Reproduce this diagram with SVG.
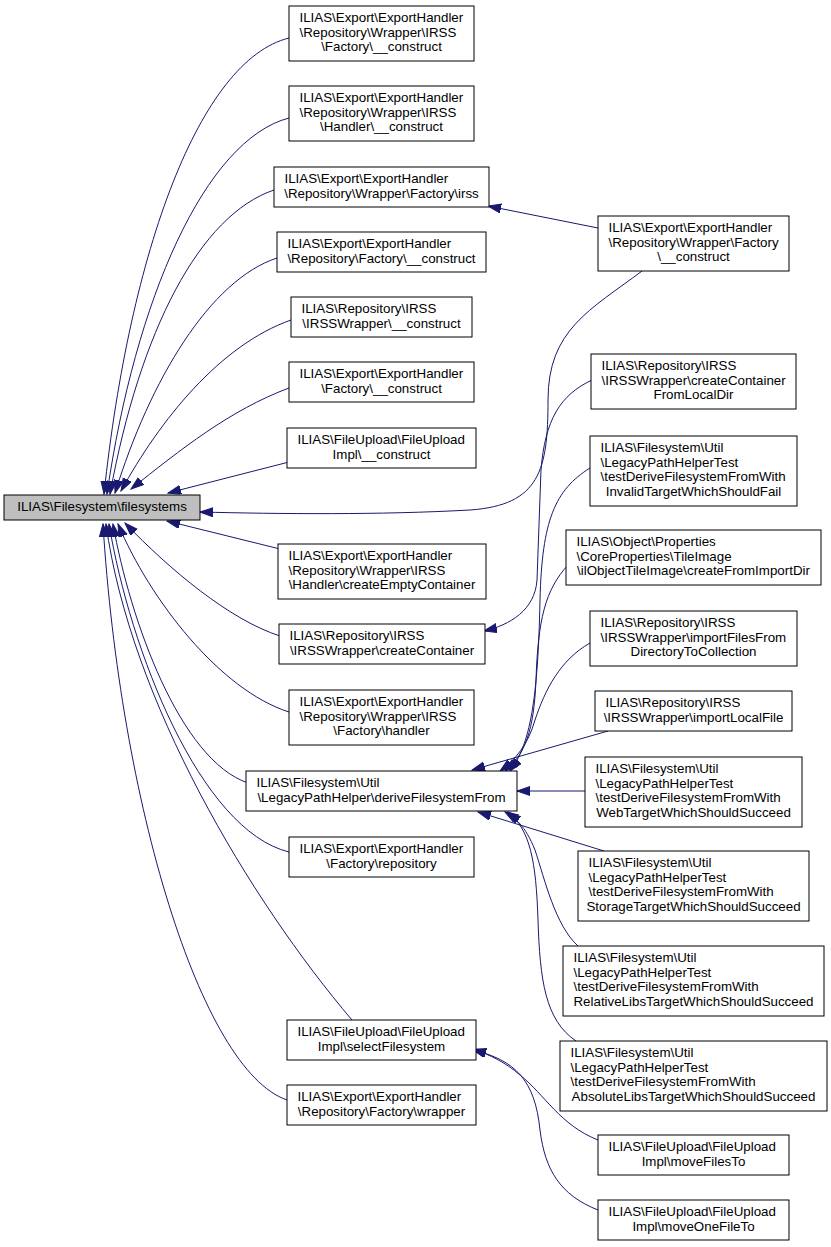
<svg xmlns="http://www.w3.org/2000/svg" width="831" height="1247" viewBox="0 0 831 1247">
<style>
.node rect{fill:#ffffff;stroke:#000000;stroke-width:1}
.main rect{fill:#bfbfbf}
text{font-family:"Liberation Sans",Arial,Helvetica,sans-serif;font-size:13.33px;fill:#000000}
.c{text-anchor:middle}
.edges path{fill:none;stroke:#191970;stroke-width:1}
</style>
<defs>
<marker id="ah" markerUnits="userSpaceOnUse" markerWidth="14" markerHeight="10" refX="13" refY="4.5" orient="auto">
<path d="M0,0 L13,4.5 L0,9 Z" fill="#191970" stroke="#191970" stroke-width="1"/>
</marker>
</defs>
<rect x="0" y="0" width="831" height="1247" fill="#ffffff"/>
<g class="edges" marker-end="url(#ah)">
<path d="M289,38 C200,60 130,250 104,494" marker-end="url(#ah)"/>
<path d="M289,118 C205,140 135,300 107,494" marker-end="url(#ah)"/>
<path d="M274,190 C200,215 140,330 110,494" marker-end="url(#ah)"/>
<path d="M277,258 C210,280 150,380 115,493" marker-end="url(#ah)"/>
<path d="M291,320 C220,345 160,420 121,491" marker-end="url(#ah)"/>
<path d="M289,388 C230,410 180,450 131,489" marker-end="url(#ah)"/>
<path d="M289,462 L168,493" marker-end="url(#ah)"/>
<path d="M280,549 L167,521" marker-end="url(#ah)"/>
<path d="M280,636 C230,620 170,570 125,523" marker-end="url(#ah)"/>
<path d="M289,712 C220,690 150,600 118,524" marker-end="url(#ah)"/>
<path d="M248,783 C180,760 130,620 113,524" marker-end="url(#ah)"/>
<path d="M289,852 C200,830 130,650 109,524" marker-end="url(#ah)"/>
<path d="M352,1020 C250,900 130,700 106,524" marker-end="url(#ah)"/>
<path d="M287,1100 C200,1070 120,800 103,524" marker-end="url(#ah)"/>
<path d="M642,271 C590,310 548,330 548,400 C548,470 540,505 470,510 C380,515 280,514 200,512" marker-end="url(#ah)"/>
<path d="M598,228 L488,206" marker-end="url(#ah)"/>
<path d="M592,380 C560,395 545,420 541,470 L537,580 C535,610 510,625 484,631" marker-end="url(#ah)"/>
<path d="M590,468 C555,490 542,520 540,600 C538,700 530,745 510,771" marker-end="url(#ah)"/>
<path d="M568,565 C545,590 538,620 536,680 C534,730 525,755 505,771" marker-end="url(#ah)"/>
<path d="M590,643 C560,660 545,690 535,720 C528,745 515,760 500,771" marker-end="url(#ah)"/>
<path d="M608,731 L472,770" marker-end="url(#ah)"/>
<path d="M585,791 L517,791" marker-end="url(#ah)"/>
<path d="M604,851 L478,812" marker-end="url(#ah)"/>
<path d="M578,946 C555,925 545,880 535,850 C525,825 515,818 505,812" marker-end="url(#ah)"/>
<path d="M576,1041 C545,1020 540,980 538,920 C536,860 530,830 508,812" marker-end="url(#ah)"/>
<path d="M598,1140 C560,1125 545,1095 520,1075 C505,1062 490,1055 473,1049" marker-end="url(#ah)"/>
<path d="M598,1210 C560,1195 545,1170 540,1130 C535,1080 515,1060 473,1050" marker-end="url(#ah)"/>
</g>
<g id="main" class="node main"><rect x="4" y="495" width="196" height="25"/><text class="c" x="102" y="511">ILIAS\Filesystem\filesystems</text></g>
<g id="n1" class="node"><rect x="289" y="6" width="185" height="55"/><text x="299.5" y="22">ILIAS\Export\ExportHandler</text><text x="299.5" y="36.67">\Repository\Wrapper\IRSS</text><text class="c" x="381.5" y="51.33">\Factory\__construct</text></g>
<g id="n2" class="node"><rect x="289" y="86" width="185" height="55"/><text x="299.5" y="102">ILIAS\Export\ExportHandler</text><text x="299.5" y="116.67">\Repository\Wrapper\IRSS</text><text class="c" x="381.5" y="131.33">\Handler\__construct</text></g>
<g id="n3" class="node"><rect x="274" y="167" width="215" height="40"/><text x="284.5" y="183">ILIAS\Export\ExportHandler</text><text class="c" x="381.5" y="197.67">\Repository\Wrapper\Factory\irss</text></g>
<g id="n4" class="node"><rect x="277" y="232" width="209" height="40"/><text x="287.5" y="248">ILIAS\Export\ExportHandler</text><text class="c" x="381.5" y="262.67">\Repository\Factory\__construct</text></g>
<g id="n5" class="node"><rect x="291" y="297" width="181" height="40"/><text x="301.5" y="313">ILIAS\Repository\IRSS</text><text class="c" x="381.5" y="327.67">\IRSSWrapper\__construct</text></g>
<g id="n6" class="node"><rect x="289" y="362" width="185" height="40"/><text x="299.5" y="378">ILIAS\Export\ExportHandler</text><text class="c" x="381.5" y="392.67">\Factory\__construct</text></g>
<g id="n7" class="node"><rect x="287" y="428" width="189" height="40"/><text x="297.5" y="444">ILIAS\FileUpload\FileUpload</text><text class="c" x="381.5" y="458.67">Impl\__construct</text></g>
<g id="n8" class="node"><rect x="278" y="544" width="208" height="55"/><text x="288.5" y="560">ILIAS\Export\ExportHandler</text><text x="288.5" y="574.67">\Repository\Wrapper\IRSS</text><text class="c" x="382" y="589.33">\Handler\createEmptyContainer</text></g>
<g id="n9" class="node"><rect x="279" y="624" width="206" height="40"/><text x="289.5" y="640">ILIAS\Repository\IRSS</text><text class="c" x="382" y="654.67">\IRSSWrapper\createContainer</text></g>
<g id="n10" class="node"><rect x="289" y="690" width="185" height="55"/><text x="299.5" y="706">ILIAS\Export\ExportHandler</text><text x="299.5" y="720.67">\Repository\Wrapper\IRSS</text><text class="c" x="381.5" y="735.33">\Factory\handler</text></g>
<g id="n11" class="node"><rect x="246" y="771" width="271" height="40"/><text x="256.5" y="787">ILIAS\Filesystem\Util</text><text class="c" x="381.5" y="801.67">\LegacyPathHelper\deriveFilesystemFrom</text></g>
<g id="n12" class="node"><rect x="289" y="837" width="185" height="40"/><text x="299.5" y="853">ILIAS\Export\ExportHandler</text><text class="c" x="381.5" y="867.67">\Factory\repository</text></g>
<g id="n13" class="node"><rect x="287" y="1020" width="189" height="40"/><text x="297.5" y="1036">ILIAS\FileUpload\FileUpload</text><text class="c" x="381.5" y="1050.67">Impl\selectFilesystem</text></g>
<g id="n14" class="node"><rect x="287" y="1085" width="189" height="40"/><text x="297.5" y="1101">ILIAS\Export\ExportHandler</text><text class="c" x="381.5" y="1115.67">\Repository\Factory\wrapper</text></g>
<g id="nA" class="node"><rect x="598" y="216" width="191" height="55"/><text x="608.5" y="232">ILIAS\Export\ExportHandler</text><text x="608.5" y="246.67">\Repository\Wrapper\Factory</text><text class="c" x="693.5" y="261.33">\__construct</text></g>
<g id="nB" class="node"><rect x="591" y="354" width="205" height="55"/><text x="601.5" y="370">ILIAS\Repository\IRSS</text><text x="601.5" y="384.67">\IRSSWrapper\createContainer</text><text class="c" x="693.5" y="399.33">FromLocalDir</text></g>
<g id="nC" class="node"><rect x="590" y="436" width="207" height="70"/><text x="600.5" y="452">ILIAS\Filesystem\Util</text><text x="600.5" y="466.67">\LegacyPathHelperTest</text><text x="600.5" y="481.33">\testDeriveFilesystemFromWith</text><text class="c" x="693.5" y="496">InvalidTargetWhichShouldFail</text></g>
<g id="nD" class="node"><rect x="566" y="530" width="255" height="55"/><text x="576.5" y="546">ILIAS\Object\Properties</text><text x="576.5" y="560.67">\CoreProperties\TileImage</text><text class="c" x="693.5" y="575.33">\ilObjectTileImage\createFromImportDir</text></g>
<g id="nE" class="node"><rect x="590" y="611" width="207" height="55"/><text x="600.5" y="627">ILIAS\Repository\IRSS</text><text x="600.5" y="641.67">\IRSSWrapper\importFilesFrom</text><text class="c" x="693.5" y="656.33">DirectoryToCollection</text></g>
<g id="nF" class="node"><rect x="595" y="691" width="197" height="40"/><text x="605.5" y="707">ILIAS\Repository\IRSS</text><text class="c" x="693.5" y="721.67">\IRSSWrapper\importLocalFile</text></g>
<g id="nG" class="node"><rect x="585" y="757" width="217" height="70"/><text x="595.5" y="773">ILIAS\Filesystem\Util</text><text x="595.5" y="787.67">\LegacyPathHelperTest</text><text x="595.5" y="802.33">\testDeriveFilesystemFromWith</text><text class="c" x="693.5" y="817">WebTargetWhichShouldSucceed</text></g>
<g id="nH" class="node"><rect x="578" y="851" width="231" height="70"/><text x="588.5" y="867">ILIAS\Filesystem\Util</text><text x="588.5" y="881.67">\LegacyPathHelperTest</text><text x="588.5" y="896.33">\testDeriveFilesystemFromWith</text><text class="c" x="693.5" y="911">StorageTargetWhichShouldSucceed</text></g>
<g id="nI" class="node"><rect x="563" y="946" width="261" height="70"/><text x="573.5" y="962">ILIAS\Filesystem\Util</text><text x="573.5" y="976.67">\LegacyPathHelperTest</text><text x="573.5" y="991.33">\testDeriveFilesystemFromWith</text><text class="c" x="693.5" y="1006">RelativeLibsTargetWhichShouldSucceed</text></g>
<g id="nJ" class="node"><rect x="560" y="1041" width="267" height="70"/><text x="570.5" y="1057">ILIAS\Filesystem\Util</text><text x="570.5" y="1071.67">\LegacyPathHelperTest</text><text x="570.5" y="1086.33">\testDeriveFilesystemFromWith</text><text class="c" x="693.5" y="1101">AbsoluteLibsTargetWhichShouldSucceed</text></g>
<g id="nK" class="node"><rect x="598" y="1135" width="191" height="40"/><text x="608.5" y="1151">ILIAS\FileUpload\FileUpload</text><text class="c" x="693.5" y="1165.67">Impl\moveFilesTo</text></g>
<g id="nL" class="node"><rect x="598" y="1200" width="191" height="40"/><text x="608.5" y="1216">ILIAS\FileUpload\FileUpload</text><text class="c" x="693.5" y="1230.67">Impl\moveOneFileTo</text></g>
</svg>
